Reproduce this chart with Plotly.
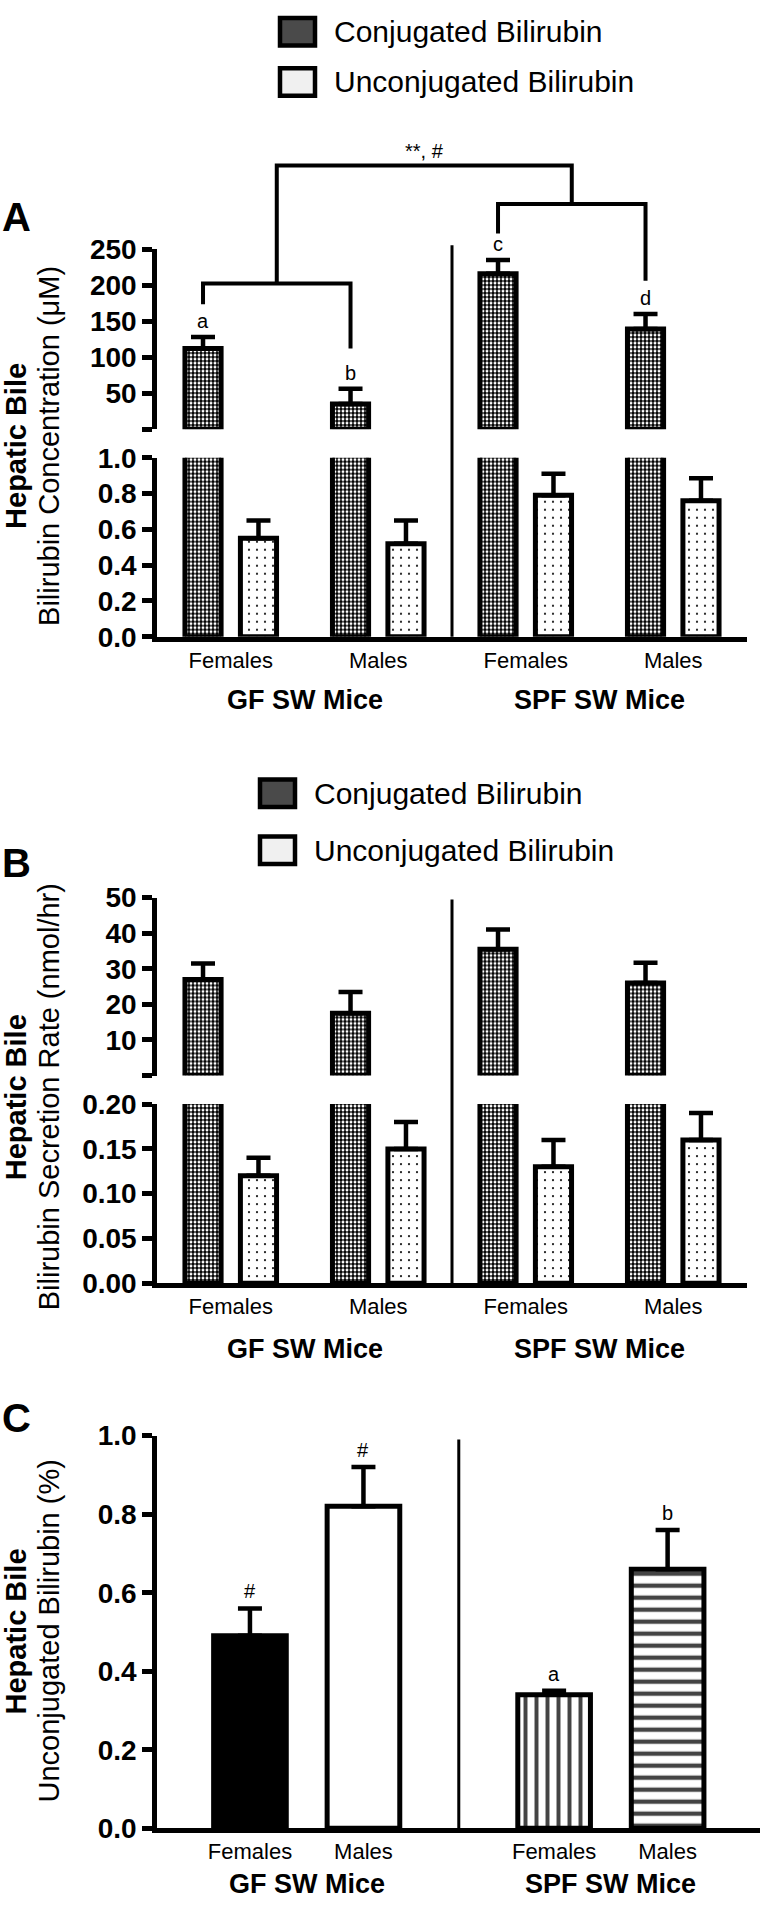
import plotly.graph_objects as go

W, H = 760, 1919

# ---- data ----
sexes = ["Females", "Males", "Females", "Males"]
strains = ["GF SW Mice", "SPF SW Mice"]
series_names = ["Conjugated Bilirubin", "Unconjugated Bilirubin"]

# A: bile bilirubin concentration (uM)
conc_conj = [112, 35, 216, 139]
conc_conj_err = [16, 21, 19, 21]
conc_unconj = [0.55, 0.52, 0.79, 0.76]
conc_unconj_err = [0.10, 0.13, 0.12, 0.125]
conc_letters = ["a", "b", "c", "d"]

# B: bilirubin secretion rate (nmol/hr)
rate_conj = [27, 17.5, 35.5, 26]
rate_conj_err = [4.5, 6, 5.5, 5.7]
rate_unconj = [0.12, 0.15, 0.13, 0.16]
rate_unconj_err = [0.02, 0.03, 0.03, 0.03]

# C: unconjugated bilirubin (%)
pct_unconj = [0.49, 0.82, 0.34, 0.66]
pct_unconj_err = [0.07, 0.10, 0.01, 0.10]
pct_labels = ["#", "#", "a", "b"]

# ---- layout helpers ----
FONT = "Liberation Sans, Arial, sans-serif"


def pxx(x):
    return x / W


def pxy(y):
    return 1 - y / H


pos_ab = list(range(len(sexes)))
GAP_C = 0.68
pos_c = [i + GAP_C * (i // 2) for i in range(len(sexes))]

HALF = 0.188
BAR_W = 0.245

# checker look for conjugated, sparse dots for unconjugated
conj_marker = dict(color="black", line=dict(color="black", width=5),
                   pattern=dict(shape=".", size=4, solidity=0.42,
                                fgcolor="white", bgcolor="black", fgopacity=1))
unconj_marker = dict(color="white", line=dict(color="black", width=5),
                     pattern=dict(shape=".", size=8, solidity=0.06,
                                  fgcolor="black", bgcolor="white", fgopacity=1))


def err(vals):
    return dict(type="data", array=vals, arrayminus=[0] * len(vals),
                symmetric=False, color="black", thickness=4.5, width=12)


fig = go.Figure()

# panel A
fig.add_trace(go.Bar(x=pos_ab, y=conc_conj, xaxis="x", yaxis="y",
                     width=BAR_W, offset=-HALF - BAR_W / 2,
                     marker=conj_marker, name=series_names[0]))
fig.add_trace(go.Bar(x=pos_ab, y=conc_unconj, xaxis="x", yaxis="y",
                     width=BAR_W, offset=HALF - BAR_W / 2,
                     marker=unconj_marker, error_y=err(conc_unconj_err),
                     name=series_names[1]))
fig.add_trace(go.Bar(x=pos_ab, y=conc_conj, xaxis="x2", yaxis="y2",
                     width=BAR_W, offset=-HALF - BAR_W / 2,
                     marker=conj_marker, error_y=err(conc_conj_err),
                     name=series_names[0]))

# panel B
fig.add_trace(go.Bar(x=pos_ab, y=rate_conj, xaxis="x3", yaxis="y3",
                     width=BAR_W, offset=-HALF - BAR_W / 2,
                     marker=conj_marker, name=series_names[0]))
fig.add_trace(go.Bar(x=pos_ab, y=rate_unconj, xaxis="x3", yaxis="y3",
                     width=BAR_W, offset=HALF - BAR_W / 2,
                     marker=unconj_marker, error_y=err(rate_unconj_err),
                     name=series_names[1]))
fig.add_trace(go.Bar(x=pos_ab, y=rate_conj, xaxis="x4", yaxis="y4",
                     width=BAR_W, offset=-HALF - BAR_W / 2,
                     marker=conj_marker, error_y=err(rate_conj_err),
                     name=series_names[0]))

# panel C
fig.add_trace(go.Bar(x=pos_c, y=pct_unconj, xaxis="x5", yaxis="y5",
                     width=0.64,
                     marker=dict(color=["black", "white", "white", "white"],
                                 line=dict(color="black", width=5),
                                 pattern=dict(shape=["", "", "|", "-"], size=[8, 8, 11, 12],
                                              solidity=0.36, fgcolor="black",
                                              fgopacity=1, fillmode="overlay")),
                     error_y=err(pct_unconj_err), name="Unconjugated Bilirubin (%)"))

tick_font = dict(family=FONT, size=28, color="black", weight="bold")
cat_font = dict(family=FONT, size=22, color="black")


def yax(top, bottom, rng, vals, text):
    return dict(domain=[pxy(bottom), pxy(top)], range=rng, tickvals=vals, ticktext=text,
                showline=True, linewidth=4.5, linecolor="black", ticks="outside",
                ticklen=10, tickwidth=4.5, tickcolor="black", showgrid=False,
                zeroline=False, tickfont=tick_font)


def xax(rng, right, vals=None, show=True):
    d = dict(domain=[pxx(157), pxx(right)], range=rng, showgrid=False, zeroline=False)
    if show:
        d.update(showline=True, linewidth=4.5, linecolor="black", ticks="",
                 tickvals=vals, ticktext=sexes, tickfont=cat_font, ticklabelstandoff=0)
    else:
        d.update(visible=False)
    return d


rng_ab = [-0.5, 3.5]
rng_c = [-0.819, 4.494]

fig.update_layout(
    width=W, height=H, margin=dict(l=0, r=0, t=0, b=0),
    paper_bgcolor="white", plot_bgcolor="white", showlegend=False,
    barmode="overlay",
    xaxis=dict(xax(rng_ab, 747, pos_ab), anchor="y"),
    yaxis=dict(yax(450, 632, [0, 1.0], [0, 0.2, 0.4, 0.6, 0.8, 1.0],
                   ["0.0", "0.2", "0.4", "0.6", "0.8", "1.0"]), anchor="x"),
    xaxis2=dict(xax(rng_ab, 747, show=False), anchor="y2"),
    yaxis2=dict(yax(238, 421, [0, 250], [0, 50, 100, 150, 200, 250],
                    ["", "50", "100", "150", "200", "250"]), anchor="x2"),
    xaxis3=dict(xax(rng_ab, 747, pos_ab), anchor="y3"),
    yaxis3=dict(yax(1107, 1289, [0, 0.2], [0, 0.05, 0.10, 0.15, 0.20],
                    ["0.00", "0.05", "0.10", "0.15", "0.20"]), anchor="x3"),
    xaxis4=dict(xax(rng_ab, 747, show=False), anchor="y4"),
    yaxis4=dict(yax(897, 1078, [0, 50], [0, 10, 20, 30, 40, 50],
                    ["", "10", "20", "30", "40", "50"]), anchor="x4"),
    xaxis5=dict(xax(rng_c, 760, pos_c), anchor="y5"),
    yaxis5=dict(yax(1444, 1843, [0, 1.0], [0, 0.2, 0.4, 0.6, 0.8, 1.0],
                    ["0.0", "0.2", "0.4", "0.6", "0.8", "1.0"]), anchor="x5"),
)

shapes = []
annots = []


def text(x, y, s, size, bold=False, xref="paper", yref="paper", **kw):
    d = dict(x=x, y=y, xref=xref, yref=yref, text=s, showarrow=False,
             font=dict(family=FONT, size=size, color="black",
                       weight="bold" if bold else "normal"))
    d.update(kw)
    annots.append(d)


# legends (drawn by hand so the swatches keep their size)
for top, sw_x, step in ((3, 280, 51), (777, 260, 58)):
    for k, name in enumerate(series_names):
        y0 = top + k * step
        shapes.append(dict(type="rect", xref="paper", yref="paper",
                           x0=pxx(sw_x), x1=pxx(sw_x + 35), y0=pxy(y0 + 28), y1=pxy(y0),
                           fillcolor="#4a4a4a" if k == 0 else "#f0f0f0",
                           line=dict(color="black", width=4.5)))
        text(pxx(sw_x + 52), pxy(y0 + 14), name, 30, xanchor="left", yanchor="middle")

# panel letters
text(pxx(0), pxy(205), "A", 40, True, xanchor="left", yanchor="middle")
text(pxx(0), pxy(862), "B", 40, True, xanchor="left", yanchor="middle")
text(pxx(0), pxy(1426), "C", 40, True, xanchor="left", yanchor="middle")

# y titles
for cy, sub in ((438, "Bilirubin Concentration (μM)"),
                (1100, "Bilirubin Secretion Rate (nmol/hr)"),
                (1643, "Unconjugated Bilirubin (%)")):
    text(pxx(16), pxy(cy), "Hepatic Bile", 29, True, textangle=-90,
         xanchor="center", yanchor="middle")
    text(pxx(49), pxy(cy), sub, 29, textangle=-90, xanchor="center", yanchor="middle")

# strain labels under the axes
for xr, yline, pos in (("x", 696, pos_ab), ("x3", 1356, pos_ab), ("x5", 1900, pos_c)):
    for g, name in enumerate(strains):
        text((pos[2 * g] + pos[2 * g + 1]) / 2, pxy(yline), name, 27, True,
             xref=xr, yanchor="middle")

# dividers between strains
for xr, y0, y1, pos in (("x", 234, 632, pos_ab), ("x3", 899, 1289, pos_ab),
                        ("x5", 1448, 1843, pos_c)):
    xm = (pos[1] + pos[2]) / 2
    shapes.append(dict(type="line", xref=xr, yref="paper", x0=xm, x1=xm,
                       y0=pxy(y1), y1=pxy(y0), line=dict(color="black", width=3)))

# significance letters over conjugated bars (panel A)
for i, s in enumerate(conc_letters):
    text(pos_ab[i] - HALF, conc_conj[i] + conc_conj_err[i], s, 20,
         xref="x2", yref="y2", yshift=16, yanchor="middle")

# brackets (panel A)
cx = [p - HALF for p in pos_ab]
br = dict(color="black", width=4)
shapes.append(dict(type="path", xref="x2", yref="paper", line=br,
                   path=f"M{cx[0]},{pxy(294)} L{cx[0]},{pxy(273)} L{cx[1]},{pxy(273)} L{cx[1]},{pxy(339)}"))
shapes.append(dict(type="path", xref="x2", yref="paper", line=br,
                   path=f"M{cx[2]},{pxy(222)} L{cx[2]},{pxy(192)} L{cx[3]},{pxy(192)} L{cx[3]},{pxy(270)}"))
gm = (cx[0] + cx[1]) / 2
sm = (cx[2] + cx[3]) / 2
shapes.append(dict(type="path", xref="x2", yref="paper", line=br,
                   path=f"M{gm},{pxy(273)} L{gm},{pxy(153)} L{sm},{pxy(153)} L{sm},{pxy(192)}"))
text((gm + sm) / 2, pxy(138), "**, #", 20, xref="x2", yanchor="middle")

# labels over panel C bars
for i, s in enumerate(pct_labels):
    text(pos_c[i], pct_unconj[i] + pct_unconj_err[i], s, 20,
         xref="x5", yref="y5", yshift=17, yanchor="middle")

fig.update_layout(shapes=shapes, annotations=annots)

fig.write_html("out.html", config={"displayModeBar": False},
               post_script="document.body.style.margin='0';")
